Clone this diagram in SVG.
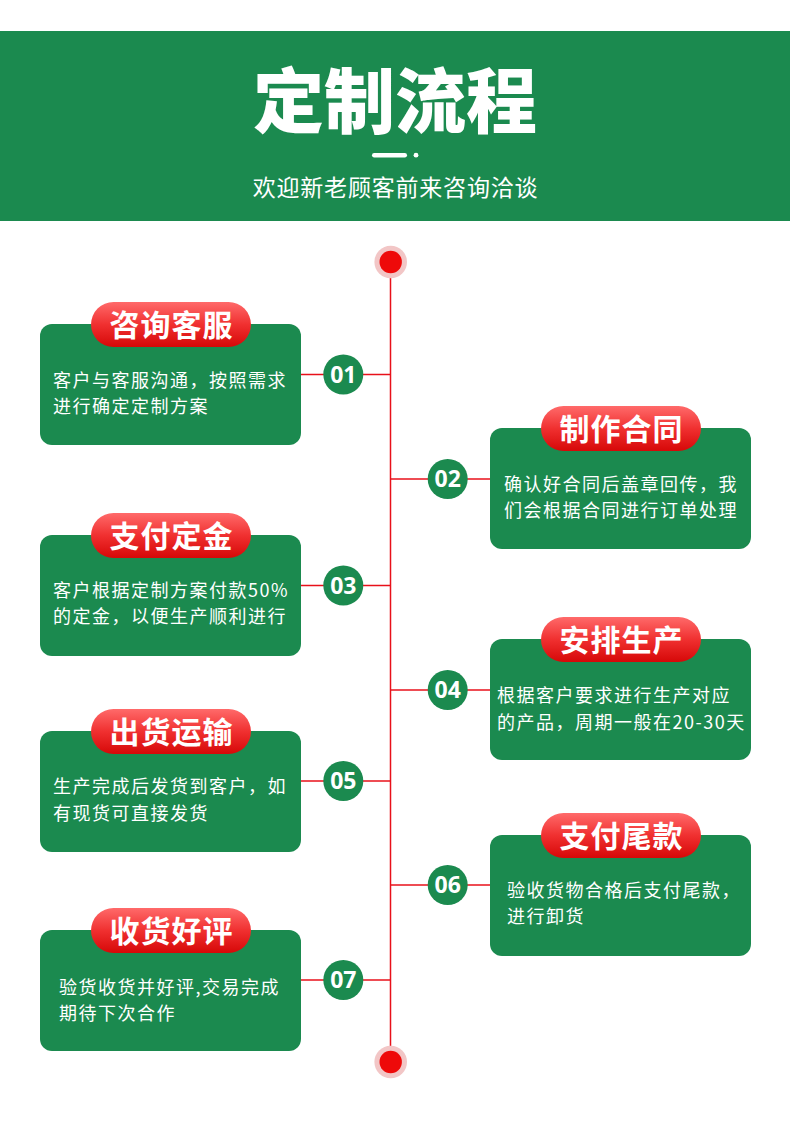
<svg xmlns="http://www.w3.org/2000/svg" width="790" height="1137" viewBox="0 0 790 1137">
<defs>
<linearGradient id="pillGrad" x1="0" y1="0" x2="0" y2="1">
<stop offset="0" stop-color="#ff6a6a"/>
<stop offset="0.5" stop-color="#f03030"/>
<stop offset="1" stop-color="#d60808"/>
</linearGradient>
</defs>
<style>
.box{fill:#1b8a4f}
.pill{fill:url(#pillGrad)}
.ptxt{font-family:"Noto Sans CJK SC","Noto Sans",sans-serif;font-size:30px;font-weight:bold;fill:#fff;text-anchor:middle;letter-spacing:1px}
.btxt{font-family:"Noto Sans CJK SC","Noto Sans",sans-serif;font-size:18px;fill:#fff;letter-spacing:1.5px}
.num{fill:#1b8a4f}
.ntxt{font-family:"Noto Sans","Noto Sans CJK SC",sans-serif;font-size:23px;font-weight:bold;fill:#fff;text-anchor:middle}
.ln{stroke:#e8101a;stroke-width:1.5;fill:none}
</style>
<rect width="790" height="1137" fill="#ffffff"/>
<g id="header">
<rect x="0" y="31" width="790" height="190" fill="#1b8a4f"/>
<text x="395" y="127" font-family="'Noto Sans CJK SC',sans-serif" font-size="71" font-weight="900" fill="#fff" text-anchor="middle">定制流程</text>
<rect x="372" y="153" width="35" height="4.5" rx="2.2" fill="#fff"/>
<circle cx="416" cy="155.2" r="2.4" fill="#fff"/>
<text x="395.5" y="195.5" font-family="'Noto Sans CJK SC',sans-serif" font-size="23" fill="#fff" text-anchor="middle" letter-spacing="0.8">欢迎新老顾客前来咨询洽谈</text>
</g>
<g id="connectors">
<line class="ln" x1="390.5" y1="262" x2="390.5" y2="1062"/>
<line class="ln" x1="301" y1="374.5" x2="390.5" y2="374.5"/>
<line class="ln" x1="390.5" y1="479" x2="490" y2="479"/>
<line class="ln" x1="301" y1="585.5" x2="390.5" y2="585.5"/>
<line class="ln" x1="390.5" y1="690" x2="490" y2="690"/>
<line class="ln" x1="301" y1="781" x2="390.5" y2="781"/>
<line class="ln" x1="390.5" y1="885" x2="490" y2="885"/>
<line class="ln" x1="301" y1="980" x2="390.5" y2="980"/>
</g>
<g id="start">
<circle cx="390.7" cy="262" r="16.3" fill="#f2c6c6"/>
<circle cx="390.7" cy="262" r="11.2" fill="#ee0a0a"/>
</g>
<g id="end">
<circle cx="390.7" cy="1062" r="16.3" fill="#f2c6c6"/>
<circle cx="390.7" cy="1062" r="11.2" fill="#ee0a0a"/>
</g>
<g id="step1">
<rect class="box" x="40" y="324" width="261" height="121" rx="12"/>
<rect class="pill" x="91" y="302" width="160" height="45" rx="22.5"/>
<text class="ptxt" x="171.5" y="335.5">咨询客服</text>
<text class="btxt" x="53" y="387">客户与客服沟通，按照需求</text>
<text class="btxt" x="53" y="413">进行确定定制方案</text>
<circle class="num" cx="343.3" cy="374.5" r="20"/>
<text class="ntxt" x="343.3" y="382.5">01</text>
</g>
<g id="step2">
<rect class="box" x="490" y="428" width="261" height="121" rx="12"/>
<rect class="pill" x="541" y="406" width="160" height="45" rx="22.5"/>
<text class="ptxt" x="621.5" y="439.5">制作合同</text>
<text class="btxt" x="504" y="491">确认好合同后盖章回传，我</text>
<text class="btxt" x="504" y="517">们会根据合同进行订单处理</text>
<circle class="num" cx="447.7" cy="479" r="20"/>
<text class="ntxt" x="447.7" y="487">02</text>
</g>
<g id="step3">
<rect class="box" x="40" y="535" width="261" height="121" rx="12"/>
<rect class="pill" x="91" y="513" width="160" height="45" rx="22.5"/>
<text class="ptxt" x="171.5" y="546.5">支付定金</text>
<text class="btxt" x="53" y="597">客户根据定制方案付款50%</text>
<text class="btxt" x="53" y="623">的定金，以便生产顺利进行</text>
<circle class="num" cx="343.3" cy="585.5" r="20"/>
<text class="ntxt" x="343.3" y="593.5">03</text>
</g>
<g id="step4">
<rect class="box" x="490" y="639" width="261" height="121" rx="12"/>
<rect class="pill" x="541" y="617" width="160" height="45" rx="22.5"/>
<text class="ptxt" x="621.5" y="650.5">安排生产</text>
<text class="btxt" x="497" y="702">根据客户要求进行生产对应</text>
<text class="btxt" x="497" y="728.5">的产品，周期一般在20-30天</text>
<circle class="num" cx="447.7" cy="690" r="20"/>
<text class="ntxt" x="447.7" y="698">04</text>
</g>
<g id="step5">
<rect class="box" x="40" y="731" width="261" height="121" rx="12"/>
<rect class="pill" x="91" y="709" width="160" height="45" rx="22.5"/>
<text class="ptxt" x="171.5" y="742.5">出货运输</text>
<text class="btxt" x="53" y="793">生产完成后发货到客户，如</text>
<text class="btxt" x="53" y="819.5">有现货可直接发货</text>
<circle class="num" cx="343.3" cy="781" r="20"/>
<text class="ntxt" x="343.3" y="789">05</text>
</g>
<g id="step6">
<rect class="box" x="490" y="835" width="261" height="121" rx="12"/>
<rect class="pill" x="541" y="813" width="160" height="45" rx="22.5"/>
<text class="ptxt" x="621.5" y="846.5">支付尾款</text>
<text class="btxt" x="507" y="897">验收货物合格后支付尾款，</text>
<text class="btxt" x="507" y="923">进行卸货</text>
<circle class="num" cx="447.7" cy="885" r="20"/>
<text class="ntxt" x="447.7" y="893">06</text>
</g>
<g id="step7">
<rect class="box" x="40" y="930" width="261" height="121" rx="12"/>
<rect class="pill" x="91" y="908" width="160" height="45" rx="22.5"/>
<text class="ptxt" x="171.5" y="941.5">收货好评</text>
<text class="btxt" x="59" y="994">验货收货并好评,交易完成</text>
<text class="btxt" x="59" y="1020">期待下次合作</text>
<circle class="num" cx="343.3" cy="980" r="20"/>
<text class="ntxt" x="343.3" y="988">07</text>
</g>
</svg>
